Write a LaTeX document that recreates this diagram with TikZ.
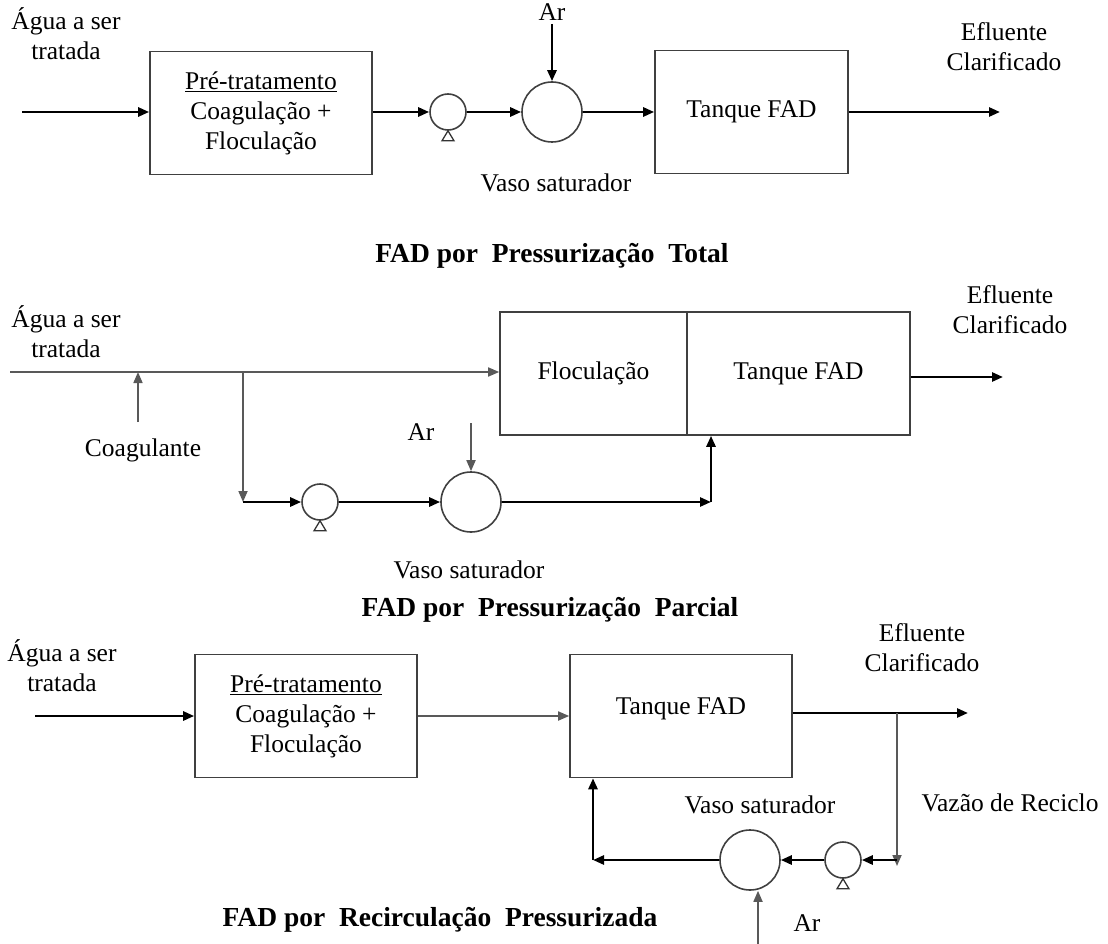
\documentclass[tikz,border=0pt]{standalone}
\usepackage{fontspec}
\setmainfont{Liberation Serif}
\usetikzlibrary{arrows.meta}
\usetikzlibrary{positioning}

\newcommand{\pumpfoot}[1]{\draw[line width=1.3pt, draw=black!80] (#1.south) -- ++(-6,10) -- ++(12,0) -- cycle;}

\begin{document}
\begin{tikzpicture}[x=1pt, y=-1pt,
every node/.style = {font=\fontsize{25.5}{30}\selectfont, align=center},
unit/.style = {draw=black!75, line width=1.6pt, minimum width=222pt, minimum height=123pt, inner sep=0pt},
pump/.style = {circle, draw=black!75, line width=1.6pt, minimum size=36pt, inner sep=0pt},
vessel/.style = {circle, draw=black!75, line width=1.6pt, minimum size=60pt, inner sep=0pt},
flow/.style = {line width=2.6pt, -{Triangle[length=11pt,width=9pt]}},
thinflow/.style = {line width=1.7pt, draw=black!65, -{Triangle[length=11pt,width=9pt]}},
title/.style = {font=\bfseries\fontsize{27.5}{32}\selectfont}]
\useasboundingbox (0,0) rectangle (1108,944);

% FAD por Pressurizacao Total
\node (in1) at (66,34) {Água a ser\\tratada};
\coordinate (s1) at (22,112);
\node[unit] (pre1) at (261,113) {\underline{Pré-tratamento}\\Coagulação +\\Floculação};
\node[pump] (p1) at (448,112) {};
\node[vessel] (v1) at (552,112) {};
\node (ar1) at (552,12) {Ar};
\node[unit, minimum width=193pt] (fad1) at (751.5,112) {Tanque FAD};
\coordinate (e1) at (1000,112);
\node (ef1) at (1004,47) {Efluente\\Clarificado};
\node (vs1) at (556,183) {Vaso saturador};
\node[title] (t1) at (552,256) {FAD por \ Pressurização \ Total};

\draw[flow] (s1) -- (s1 -| pre1.west);
\draw[flow] (pre1.east |- p1) -- (p1);
\draw[flow] (p1) -- (v1);
\draw[flow] (ar1) -- (v1);
\draw[flow] (v1) -- (fad1);
\draw[flow] (fad1) -- (e1);
\pumpfoot{p1}

% FAD por Pressurizacao Parcial
\node (in2) at (66,332) {Água a ser\\tratada};
\coordinate (s2) at (10,372);
\coordinate (c2) at (138,372);
\coordinate (b2) at (243,372);
\node[unit, minimum width=187pt] (floc) at (593.5,373.5) {Floculação};
\node[unit, minimum width=223pt] (fad2) at (798.5,373.5) {Tanque FAD};
\coordinate (e2) at (1003,377);
\node (ef2) at (1010,310) {Efluente\\Clarificado};
\node (coag) at (143,450) {Coagulante};
\coordinate (c2b) at (138,422);
\coordinate (k2) at (243,502);
\node[pump] (p2) at (320,502) {};
\node[vessel] (v2) at (471,502) {};
\node (ar2) at (421,432) {Ar};
\coordinate (a2) at ([yshift=48pt]v2.north);
\coordinate (j2) at (711,502);
\node (vs2) at (469,570) {Vaso saturador};
\node[title] (t2) at (550,610) {FAD por \ Pressurização \ Parcial};

\draw[thinflow] (s2) -- (s2 -| floc.west);
\draw[flow] (fad2.east |- e2) -- (e2);
\draw[thinflow] (c2b) -- (c2);
\draw[thinflow] (b2) -- (k2);
\draw[flow] (k2) -- (p2);
\draw[flow] (p2) -- (v2);
\draw[thinflow] (a2) -- (v2.north);
\draw[flow] (v2) -- (j2);
\draw[flow] (j2) -- (j2 |- fad2.south);
\pumpfoot{p2}

% FAD por Recirculacao Pressurizada
\node (in3) at (62,666) {Água a ser\\tratada};
\coordinate (s3) at (35,716);
\node[unit] (pre3) at (306,716) {\underline{Pré-tratamento}\\Coagulação +\\Floculação};
\node[unit] (fad3) at (681,716) {Tanque FAD\\[-10pt]};
\coordinate (e3) at (968,713);
\coordinate (b3) at (897,713);
\coordinate (k3) at (897,866);
\node[pump] (p3) at (843,860) {};
\node[vessel] (v3) at (750,860) {};
\coordinate (j3) at (593,860);
\coordinate (a3) at (758,944);
\node (ar3) at (807,923) {Ar};
\node (vs3) at (760,805) {Vaso saturador};
\node (rec) at (1010,803) {Vazão de Reciclo};
\node (ef3) at (922,648) {Efluente\\Clarificado};
\node[title] (t3) at (440,920) {FAD por \ Recirculação \ Pressurizada};

\draw[flow] (s3) -- (pre3);
\draw[thinflow] (pre3) -- (fad3);
\draw[flow] (fad3.east |- e3) -- (e3);
\draw[thinflow] (b3) -- (k3);
\draw[flow] (k3 |- p3) -- (p3);
\draw[flow] (p3) -- (v3);
\draw[flow] (v3) -- (j3);
\draw[flow] (j3) -- (j3 |- fad3.south);
\draw[thinflow] (a3) -- (a3 |- v3.south);
\pumpfoot{p3}

\end{tikzpicture}
\end{document}
